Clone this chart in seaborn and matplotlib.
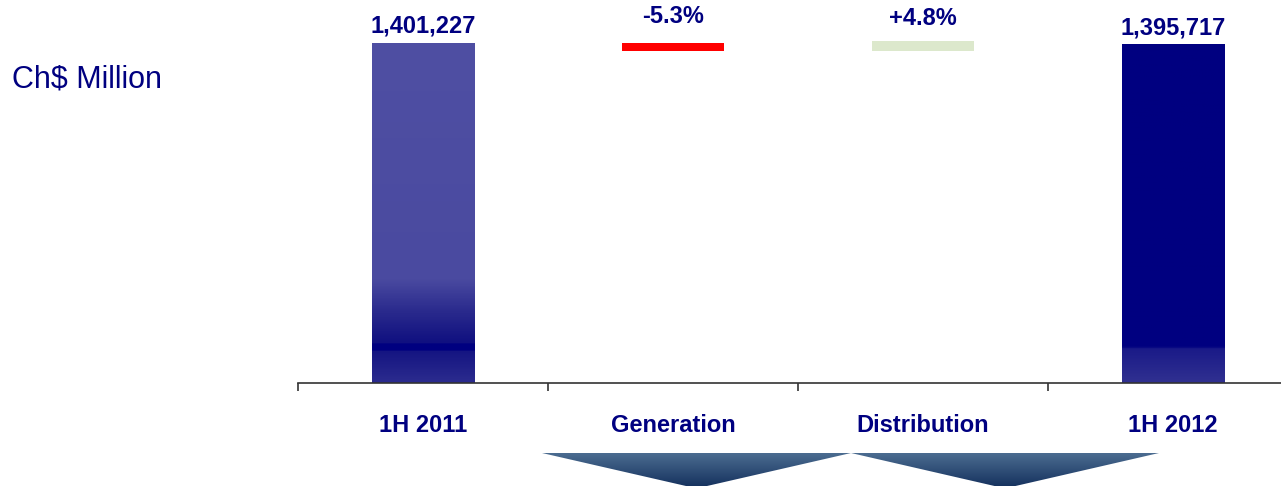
import numpy as np
import pandas as pd
import matplotlib
matplotlib.use("Agg")
import matplotlib.pyplot as plt
import seaborn as sns
from matplotlib.colors import LinearSegmentedColormap
from matplotlib.patches import Polygon

# data (waterfall, values in Ch$ thousand as shown)
categories = ["1H 2011", "Generation", "Distribution", "1H 2012"]
bar_low = [0, 1_369_500, 1_369_500, 0]
bar_high = [1_401_227, 1_401_227, 1_409_500, 1_395_717]
pct_change = [None, -5.3, 4.8, None]

# style
NAVY = "#000080"
bar_colors = ["#4F4FA3", "#FF0000", "#DCE8CC", NAVY]
label_offset = [7.2, 14.2, 11.3, 7.2]  # points above bar top
grad_2011 = [(0.0, "#2B2B8E"), (0.091, "#151582"), (0.094, NAVY), (0.112, NAVY),
             (0.116, "#101080"), (0.156, "#1B1B85"), (0.215, "#2C2C8E"),
             (0.303, "#4A4AA0"), (1.0, "#4F4FA3")]
grad_2012 = [(0.0, "#303090"), (0.10, "#1A1A88"), (0.103, NAVY), (1.0, NAVY)]
chevrons = [(0.476, 1.712), (1.712, 2.944)]

sns.set_style("white")
plt.rcParams["font.family"] = ["Liberation Sans", "DejaVu Sans"]

W, H = 1281, 486
fig = plt.figure(figsize=(W / 100, H / 100), dpi=100)
ax = fig.add_axes([298 / W, 103 / H, 1000 / W, 383 / H])

df = pd.DataFrame({"category": categories, "low": bar_low, "high": bar_high})
sns.barplot(data=df, x="category", y="high", hue="category", order=categories,
            hue_order=categories, palette=bar_colors, saturation=1, width=0.41,
            legend=False, linewidth=0, ax=ax)

# floating bars for the changes, gradients for the totals
for i, p in enumerate(ax.patches):
    if bar_low[i] > 0:
        p.set_y(bar_low[i])
        p.set_height(bar_high[i] - bar_low[i])
    grad = {0: grad_2011, 3: grad_2012}.get(i)
    if grad:
        cmap = LinearSegmentedColormap.from_list("g%d" % i, grad)
        x0, y0 = p.get_x(), p.get_y()
        im = ax.imshow(np.linspace(0, 1, 400).reshape(-1, 1), cmap=cmap, origin="lower",
                       aspect="auto", extent=[x0, x0 + p.get_width(), y0, y0 + p.get_height()],
                       zorder=p.get_zorder() + 0.1)
        im.set_clip_path(p)
    if pct_change[i] is None:
        txt = f"{bar_high[i]:,}"
    else:
        txt = f"{pct_change[i]:+.1f}%"
    ax.annotate(txt, (p.get_x() + p.get_width() / 2, bar_high[i]),
                xytext=(0, label_offset[i]), textcoords="offset points",
                ha="center", va="baseline", fontsize=17, fontweight="bold", color=NAVY)

ax.set_xlim(-0.5, 3.5)
ax.set_ylim(0, bar_high[0] * 383 / 340)
ax.set_yticks([])
ax.set_xlabel("")
ax.set_ylabel("")
ax.set_xticks(np.arange(-0.5, 4, 1), minor=True)
ax.tick_params(axis="x", which="minor", bottom=True, length=6, width=1.2,
               color="#333333", direction="out")
ax.tick_params(axis="x", which="major", length=0, pad=22, labelsize=17, labelcolor=NAVY)
for t in ax.get_xticklabels():
    t.set_fontweight("bold")
sns.despine(ax=ax, left=True)
ax.spines["bottom"].set_color("#333333")
ax.spines["bottom"].set_linewidth(1.2)

fig.text(12 / W, (H - 88) / H, "Ch$ Million", fontsize=22, color=NAVY, va="baseline")

# chevrons under the middle categories
ax2 = fig.add_axes([298 / W, 0, 1000 / W, 36 / H])
ax2.axis("off")
chev_cmap = LinearSegmentedColormap.from_list("chev", ["#132F5C", "#4B6C90"])
for a, b in chevrons:
    tri = Polygon([(a, 33), (b, 33), ((a + b) / 2, -2.4)], closed=True,
                  facecolor="none", edgecolor="none")
    ax2.add_patch(tri)
    im = ax2.imshow(np.linspace(0, 1, 100).reshape(-1, 1), cmap=chev_cmap, origin="lower",
                    aspect="auto", extent=[a, b, -2.4, 33])
    im.set_clip_path(tri)
ax2.set_xlim(-0.5, 3.5)
ax2.set_ylim(0, 36)

fig.savefig("out.png", dpi=100)
